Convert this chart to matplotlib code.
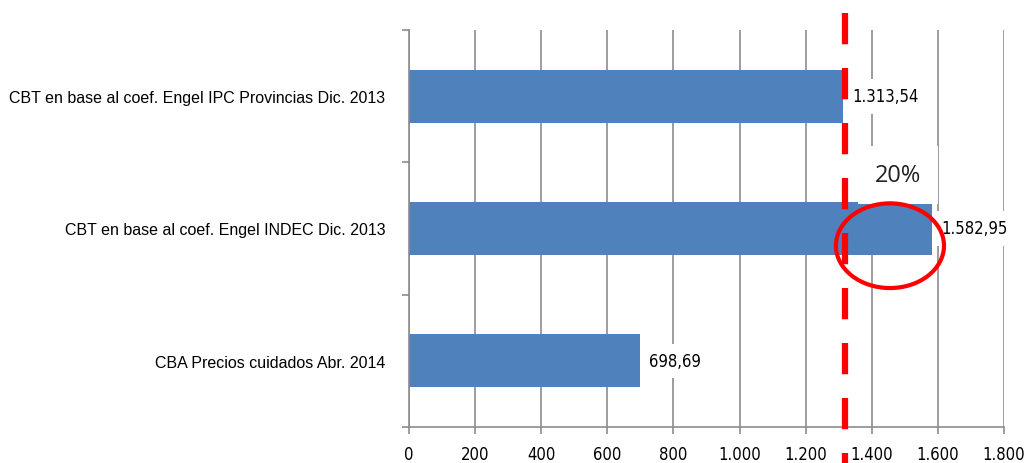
import matplotlib
matplotlib.use('Agg')
import matplotlib.pyplot as plt
from matplotlib.patches import Ellipse
from matplotlib.ticker import FixedLocator
from matplotlib import font_manager
import numpy as np

categories = ['CBT en base al coef. Engel IPC Provincias Dic. 2013',
              'CBT en base al coef. Engel INDEC Dic. 2013',
              'CBA Precios cuidados Abr. 2014']
values = [1313.54, 1582.95, 698.69]
value_labels = ['1.313,54', '1.582,95', '698,69']
xticks = [0, 200, 400, 600, 800, 1000, 1200, 1400, 1600, 1800]
xtick_labels = ['0', '200', '400', '600', '800', '1.000', '1.200', '1.400', '1.600', '1.800']
ref_line = 1320
pct_text = '20%'

# narrow font for numbers, if there is one
names = {f.name for f in font_manager.fontManager.ttflist}
narrow = ['Liberation Sans Narrow', 'DejaVu Sans'] if 'Liberation Sans Narrow' in names else ['DejaVu Sans']
num_font = dict(family=narrow, stretch='condensed')
grey = '#8c8c8c'

fig = plt.figure(figsize=(10.26, 4.64), dpi=100)
ax = fig.add_axes([409 / 1026, 36 / 464, 595 / 1026, 397 / 464])

y = np.arange(len(categories))
ax.barh(y, values, height=0.4, color='#4f81bd', zorder=2)
ax.set_ylim(2.5, -0.5)
ax.set_xlim(0, 1800)

ax.set_yticks(y)
ax.set_yticklabels(categories, fontsize=11.5, family=['Liberation Sans', 'DejaVu Sans'])
ax.yaxis.set_minor_locator(FixedLocator([-0.5, 0.5, 1.5, 2.5]))
ax.tick_params(axis='y', which='major', length=0, pad=17)
ax.tick_params(axis='y', which='minor', length=5, color=grey, width=1.2)

ax.set_xticks(xticks)
ax.set_xticklabels(xtick_labels, fontsize=12, **num_font)
ax.tick_params(axis='x', length=5, color=grey, width=1.2, pad=8)

for s in ['top', 'right']:
    ax.spines[s].set_visible(False)
for s in ['left', 'bottom']:
    ax.spines[s].set_color(grey)
    ax.spines[s].set_linewidth(1.2)

ax.grid(True, axis='x', color=grey, lw=1.2, zorder=0)
ax.set_axisbelow(True)

for yi, v, lab in zip(y, values, value_labels):
    ax.text(v + 28, yi, lab, va='center', ha='left', fontsize=12, **num_font,
            bbox=dict(facecolor='white', edgecolor='none', pad=6), zorder=3)

ax.text(1480, 0.595, pct_text, ha='center', va='center', fontsize=17,
        family=['Open Sans', 'DejaVu Sans'], color='#222222',
        bbox=dict(facecolor='white', edgecolor='none', pad=12), zorder=3)

ax.add_patch(Ellipse((1455, 1.13), 327, 0.64, fill=False, edgecolor='#ff0000', lw=3, zorder=5))

trans = ax.get_xaxis_transform()
ax.plot([ref_line, ref_line], [1.043, -0.1], transform=trans, color='#ff0000', lw=4.5,
        dashes=(5, 3.8), solid_capstyle='butt', dash_capstyle='butt', clip_on=False, zorder=6)

fig.savefig('out.png', dpi=100)
